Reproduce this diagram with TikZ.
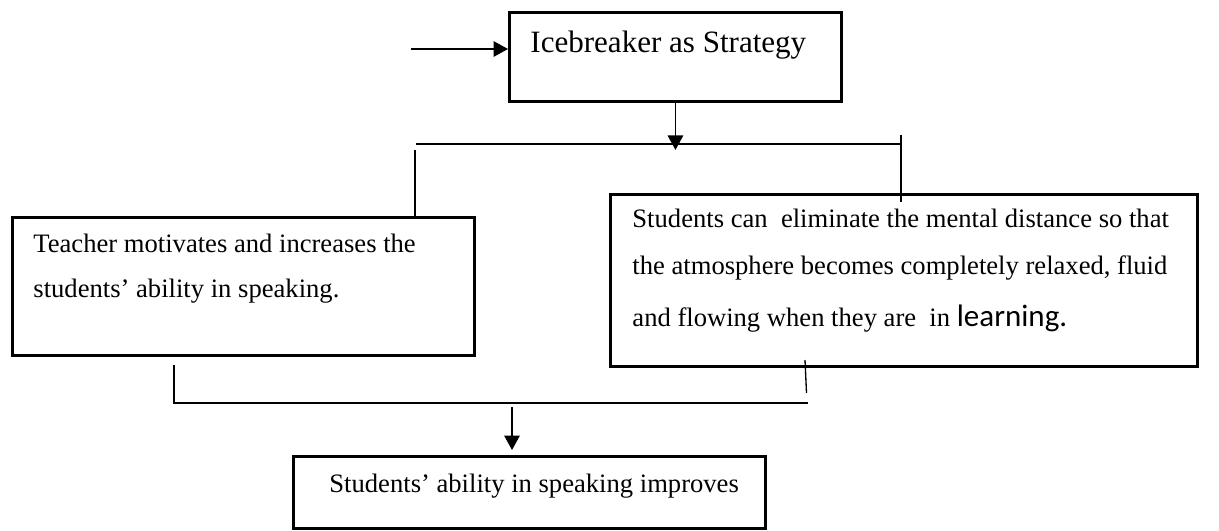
\documentclass[tikz,border=0pt]{standalone}
\usepackage{fontspec}
\setmainfont{Liberation Serif}
\newfontfamily\learnfont{Carlito}
\usetikzlibrary{arrows.meta}

\newdimen\px \px=0.451pt

\begin{document}
\begin{tikzpicture}[x=0.451pt, y=-0.451pt,
    box/.style = {draw, line width=1.3pt, inner sep=0pt, anchor=north west},
    txt/.style = {inner sep=0pt, anchor=base west, font=\fontsize{12}{14}\selectfont},
    link/.style = {line width=0.6pt},
    arr/.style = {link, -{Triangle[length=6.5pt, width=7pt]}}]
    \useasboundingbox (0,0) rectangle (1219,530);
    % boxes
    \node[box, minimum width=332\px, minimum height=89\px] (ice) at (508,11) {};
    \node[box, minimum width=462\px, minimum height=138\px] (teach) at (11,216) {};
    \node[box, minimum width=587\px, minimum height=172\px] (relax) at (609,193) {};
    \node[box, minimum width=472\px, minimum height=72\px] (result) at (292,455) {};
    % texts
    \node[txt, font=\fontsize{14}{16}\selectfont] (iceT) at (530,52) {Icebreaker as Strategy};
    \node[txt] (teachA) at (33,252) {Teacher motivates and increases the};
    \node[txt] (teachB) at (33,297) {students’ ability in speaking.};
    \node[txt] (relaxA) at (632,227) {Students can\ \ eliminate the mental distance so that};
    \node[txt] (relaxB) at (632,274) {the atmosphere becomes completely relaxed, fluid};
    \node[txt] (relaxC) at (632,326) {and flowing when they are\ \ in {\learnfont\fontsize{14}{16}\selectfont learning.}};
    \node[txt] (resultT) at (329,492) {Students’ ability in speaking improves};
    % lines
    \coordinate (in) at (411,49);
    \coordinate (splitL) at (416,144);
    \coordinate (splitR) at (901,144);
    \coordinate (dropL) at (415,150);
    \coordinate (dropR) at (901,135);
    \coordinate (riseL) at (174,365);
    \coordinate (joinR) at (808,403);
    \coordinate (riseR) at (805,360);
    \coordinate (riseRend) at (806.5,393);
    \coordinate (dropB) at (512,407);
    \draw[arr] (in) -- (in -| ice.west);
    \draw[arr] (ice.south) -- ++(0,47);
    \draw[link] (splitL) -- (splitR);
    \draw[link] (dropL) -- (dropL |- teach.north);
    \draw[link] (dropR) -- ++(0,67);
    \draw[link] (riseL) -- (riseL |- joinR) -- (joinR);
    \draw[link] (riseR) -- (riseRend);
    \draw[arr] (dropB) -- ++(0,43);
\end{tikzpicture}
\end{document}
